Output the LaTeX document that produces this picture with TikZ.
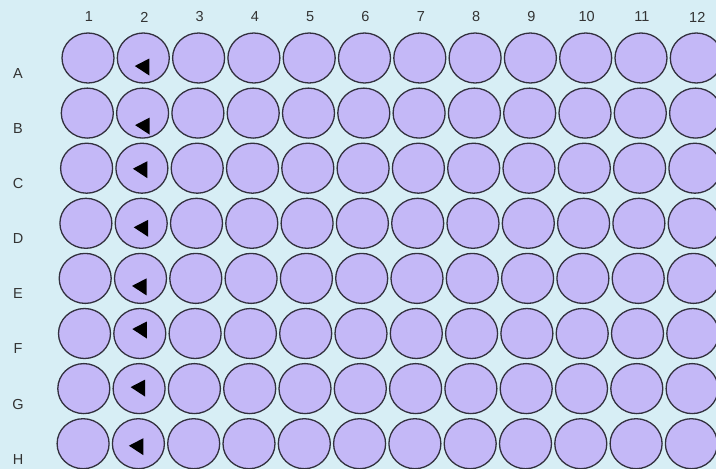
\documentclass[tikz,border=0pt]{standalone}
\usepackage{fontspec}
\setmainfont{Liberation Sans}
\usepackage{tikz}
\usetikzlibrary{shapes.geometric}

\definecolor{platebg}{RGB}{215,238,245}
\definecolor{wellfill}{RGB}{196,184,247}
\definecolor{welledge}{RGB}{50,48,62}

\begin{document}
\begin{tikzpicture}[x=1pt, y=-1pt,
  well/.style={draw=welledge, fill=wellfill, line width=1.3pt, ellipse, inner sep=0pt, minimum width=52pt, minimum height=50pt},
  lab/.style={font=\fontsize{14.5}{14.5}\selectfont, text=black!80, inner sep=0pt},
  marker/.style={fill=black}]
  \fill[platebg] (0,0) rectangle (716,469);
  \useasboundingbox (0,0) rectangle (716,469);
  % column numbers
  \foreach \c in {1,...,12}
    \node[lab] (col-\c) at ({89+55.3*(\c-1)},17) {\c};
  % wells, one row at a time (the plate is a little skewed)
  \foreach \r [count=\i from 0] in {A,B,C,D,E,F,G,H} {
    \node[lab] (row-\r) at (18,{73.5+55.1*\i}) {\r};
    \foreach \c in {1,...,12}
      \node[well] (w-\r-\c) at ({88+55.3*(\c-1)-0.7*\i},{58+55.1*\i}) {};
  }
  % markers in column 2
  \foreach \r/\dx/\dy in {A/-1/9, B/0/13, C/-1.5/1.5, D/0/5, E/-1/8.5, F/0/-3.5, G/-1/-0.5, H/-2/3} {
    \coordinate (m-\r) at ([shift={(\dx,\dy)}]w-\r-2.center);
    \fill[marker] (m-\r) +(-7.5,-1) -- +(7,-8.5) -- +(7,8.5) -- cycle;
  }
\end{tikzpicture}
\end{document}
